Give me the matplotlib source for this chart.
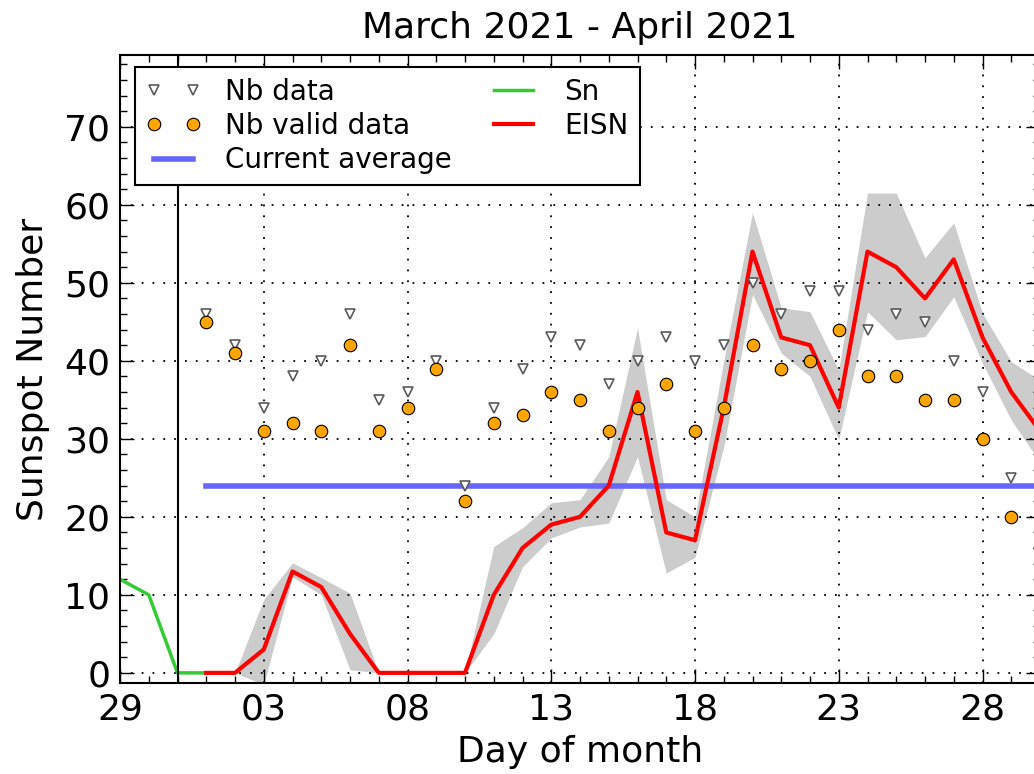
import matplotlib
matplotlib.use("Agg")
import matplotlib.pyplot as plt
from matplotlib.ticker import MultipleLocator

# day index: 0 = 31 March, 1..30 = April
sn_days = [-2, -1, 0, 1]
sn_vals = [12, 10, 0, 0]

days = list(range(1, 31))
eisn = [0, 0, 3, 13, 11, 5, 0, 0, 0, 0, 10, 16, 19, 20, 24, 36, 18, 17, 34, 54,
        43, 42, 34, 54, 52, 48, 53, 43, 36, 31]
eisn_lo = [0, 0, -1.5, 12.3, 10, 0.4, 0, 0, 0, 0, 5, 13.6, 17.3, 18.7, 19.2, 27.7,
           12.8, 14.8, 29, 48.5, 41, 38, 29.9, 46.3, 42.7, 43.1, 48.2, 39.7, 32.4, 27]
eisn_hi = [0, 0, 9.4, 14.1, 12.2, 10.2, 0, 0, 0, 0, 16.2, 18.6, 21.8, 22.2, 27.7, 44.2,
           22.2, 20, 40, 59, 46.8, 46.3, 38.8, 61.5, 61.5, 53.2, 57.7, 46.1, 39.9, 37.5]

nb_data = [46, 42, 34, 38, 40, 46, 35, 36, 40, 24, 34, 39, 43, 42, 37, 40, 43, 40,
           42, 50, 46, 49, 49, 44, 46, 45, 40, 36, 25, 18]
nb_valid = [45, 41, 31, 32, 31, 42, 31, 34, 39, 22, 32, 33, 36, 35, 31, 34, 37, 31,
            34, 42, 39, 40, 44, 38, 38, 35, 35, 30, 20, 16]
current_avg = 23.9

tick_days = [-2, 3, 8, 13, 18, 23, 28]
tick_labels = ["29", "03", "08", "13", "18", "23", "28"]

FS = 26

fig = plt.figure(figsize=(10.34, 7.74), dpi=100)
ax = fig.add_axes([120 / 1034, 91 / 774, 920 / 1034, 628 / 774])

ax.fill_between(days, eisn_lo, eisn_hi, color="#cccccc", lw=0, zorder=1)
ax.plot(days, nb_data, "v", ms=7, mfc="white", mec="0.35", mew=1.2,
        label="Nb data", zorder=4)
ax.plot(days, nb_valid, "o", ms=9, mfc="orange", mec="black", mew=0.8,
        label="Nb valid data", zorder=5)
ax.plot([days[0], days[-1]], [current_avg, current_avg], color="#6666ff", lw=4,
        label="Current average", zorder=3)
ax.plot(sn_days, sn_vals, color="#33cc33", lw=2.5, label="Sn", zorder=2)
ax.plot(days, eisn, color="red", lw=3, label="EISN", zorder=3)
ax.axvline(0, color="black", lw=1.5, zorder=2)

ax.set_xlim(-2, 30)
ax.set_ylim(-1.3, 79.2)
ax.set_xticks(tick_days)
ax.set_xticklabels(tick_labels)
ax.set_yticks(range(0, 80, 10))
ax.xaxis.set_minor_locator(MultipleLocator(1))
ax.yaxis.set_minor_locator(MultipleLocator(2))
ax.tick_params(which="both", direction="in", top=True, right=True, labelsize=FS,
               width=1)
ax.tick_params(which="major", length=10, pad=7)
ax.tick_params(which="minor", length=5)
for s in ax.spines.values():
    s.set_linewidth(1.5)
ax.grid(True, which="major", color="black", ls=(0, (1, 5)), lw=1.3)

ax.set_xlabel("Day of month", fontsize=FS, labelpad=6)
ax.set_ylabel("Sunspot Number", fontsize=FS, labelpad=10)
ax.set_title("March 2021 - April 2021", fontsize=FS, pad=12)

leg = ax.legend(loc="upper left", bbox_to_anchor=(0.0163, 0.981), borderaxespad=0,
                ncol=2, numpoints=2, fontsize=20, fancybox=False, framealpha=1,
                edgecolor="black", handlelength=2.0, handletextpad=0.85,
                columnspacing=1.2, labelspacing=0.22, borderpad=0.4)
leg.get_frame().set_linewidth(1.5)

fig.savefig("out.png", dpi=100)
